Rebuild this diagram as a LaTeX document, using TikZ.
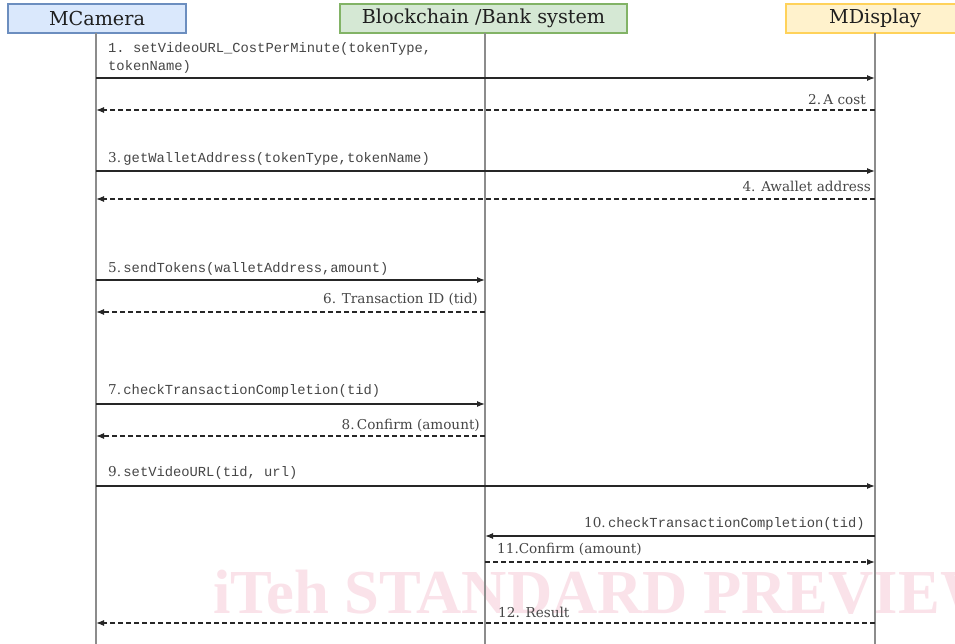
\documentclass[tikz,border=0pt]{standalone}
\usepackage{fontspec}
\setmonofont{Liberation Mono}
\newfontfamily\wmfont{Liberation Serif}
\newfontfamily\labfont{DejaVu Serif}
\usetikzlibrary{arrows.meta}
\definecolor{camfill}{RGB}{218,232,252}
\definecolor{camdraw}{RGB}{108,142,191}
\definecolor{bankfill}{RGB}{213,232,212}
\definecolor{bankdraw}{RGB}{130,179,102}
\definecolor{dispfill}{RGB}{255,242,204}
\definecolor{dispdraw}{RGB}{255,210,90}
\definecolor{lifegray}{RGB}{140,140,140}
\definecolor{labgray}{RGB}{70,70,70}
\definecolor{wmpink}{RGB}{250,226,233}
\begin{document}
\begin{tikzpicture}[x=1pt,y=-1pt,
  header/.style={draw=#1draw, fill=#1fill, line width=1.4pt, minimum height=29pt, inner sep=0pt,
    font=\labfont\fontsize{19.2}{20}\selectfont, text=black!88},
  lifeline/.style={draw=lifegray, line width=1.1pt},
  msg/.style={draw=black!85, line width=1.2pt, -{Latex[length=8pt,width=6pt]}},
  reply/.style={msg, dash pattern=on 5pt off 3pt},
  lab/.style={inner sep=0pt, text=labgray, font=\labfont\fontsize{13.6}{14}\selectfont},
  mlab/.style={lab, font=\fontsize{13.8}{14}\ttfamily},
]
\useasboundingbox (0,0) rectangle (955,643);
\clip (0,0) rectangle (955,643);
\fill[white] (0,0) rectangle (955,643);
% watermark
\node[anchor=base west, inner sep=0pt, text=wmpink, font=\fontsize{62.6}{63}\wmfont\bfseries] (wm) at (213,613) {iTeh STANDARD PREVIEW};
% headers
\node[header=cam, minimum width=178pt] (cam) at (97,18.5) {MCamera};
\node[header=bank, minimum width=287pt] (bank) at (483.5,18.5) {Blockchain /Bank system};
\node[header=disp, minimum width=178pt] (disp) at (875,18.5) {MDisplay};
% lifeline ends
\coordinate (camT) at (96,33);
\coordinate (bankT) at (485,33);
\coordinate (dispT) at (875,33);
\coordinate (bot) at (0,645);
\draw[lifeline] (camT) -- (camT |- bot);
\draw[lifeline] (bankT) -- (bankT |- bot);
\draw[lifeline] (dispT) -- (dispT |- bot);
% rows
\coordinate (r1) at (0,78);
\coordinate (r2) at (0,110);
\coordinate (r3) at (0,171);
\coordinate (r4) at (0,199);
\coordinate (r5) at (0,280);
\coordinate (r6) at (0,312);
\coordinate (r7) at (0,404);
\coordinate (r8) at (0,436);
\coordinate (r9) at (0,486);
\coordinate (r10) at (0,536);
\coordinate (r11) at (0,562);
\coordinate (r12) at (0,623);
% messages
\draw[msg] (camT |- r1) -- (dispT |- r1);
\draw[reply] (dispT |- r2) -- (camT |- r2);
\draw[msg] (camT |- r3) -- (dispT |- r3);
\draw[reply] (dispT |- r4) -- (camT |- r4);
\draw[msg] (camT |- r5) -- (bankT |- r5);
\draw[reply] (bankT |- r6) -- (camT |- r6);
\draw[msg] (camT |- r7) -- (bankT |- r7);
\draw[reply] (bankT |- r8) -- (camT |- r8);
\draw[msg] (camT |- r9) -- (dispT |- r9);
\draw[msg] (dispT |- r10) -- (bankT |- r10);
\draw[reply] (bankT |- r11) -- (dispT |- r11);
\draw[reply] (dispT |- r12) -- (camT |- r12);
% labels
\node[mlab, anchor=base west] (l1a) at (108,52) {1. setVideoURL\_CostPerMinute(tokenType,};
\node[mlab, anchor=base west] (l1b) at (108,70) {tokenName)};
\node[lab, anchor=base east] (l2) at (866,104) {2.\,A cost};
\node[lab, anchor=base west] (l3) at (108,162) {3.\,{\fontsize{13.8}{14}\ttfamily getWalletAddress(tokenType,tokenName)}};
\node[lab, anchor=base east] (l4) at (871,191) {4. Awallet address};
\node[lab, anchor=base west] (l5) at (108,272) {5.\,{\fontsize{13.8}{14}\ttfamily sendTokens(walletAddress,amount)}};
\node[lab, anchor=base east] (l6) at (478,303) {6. Transaction ID (tid)};
\node[lab, anchor=base west] (l7) at (108,394) {7.\,{\fontsize{13.8}{14}\ttfamily checkTransactionCompletion(tid)}};
\node[lab, anchor=base east] (l8) at (480,429) {8.\,Confirm (amount)};
\node[lab, anchor=base west] (l9) at (108,476) {9.\,{\fontsize{13.8}{14}\ttfamily setVideoURL(tid, url)}};
\node[lab, anchor=base east] (l10) at (865,527) {10.\,{\fontsize{13.8}{14}\ttfamily checkTransactionCompletion(tid)}};
\node[lab, anchor=base west] (l11) at (497,553) {11.Confirm (amount)};
\node[lab, anchor=base west] (l12) at (498,617) {12. Result};
\end{tikzpicture}
\end{document}
